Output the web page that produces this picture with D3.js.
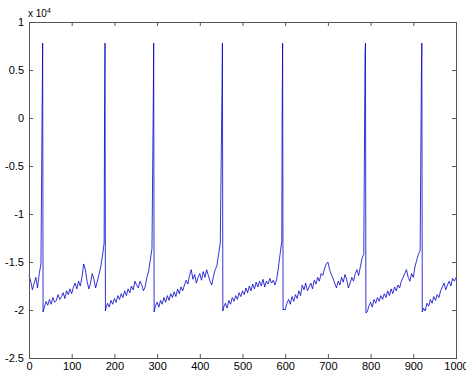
<!DOCTYPE html>
<html>
<head>
<meta charset="utf-8">
<script src="https://cdn.jsdelivr.net/npm/d3@7"></script>
<style>
  body { margin: 0; background: #fff; }
  svg { display: block; }
  text { font-family: "Liberation Sans", Arial, sans-serif; font-size: 11px; fill: #000; }
</style>
</head>
<body>
<svg id="chart" width="466" height="372"></svg>
<script>
// signal sampled every 4 units (values in units of 1e4)
const sampleStep = 4;
const signal = [
  -1.64, -1.70, -1.79, -1.72, -1.66, -1.77, -1.62, -1.52, -1.95,
  -1.97, -1.91, -1.95, -1.89, -1.94, -1.87, -1.92, -1.90, -1.84, -1.89, -1.86, -1.82,
  -1.88, -1.80, -1.84, -1.78, -1.83, -1.76, -1.72, -1.78, -1.70, -1.75, -1.66, -1.52,
  -1.58, -1.70, -1.78, -1.72, -1.62, -1.68, -1.77, -1.70, -1.63, -1.55, -1.44, -1.30,
  -1.98, -1.93, -1.97, -1.90, -1.94, -1.88, -1.92, -1.85, -1.89, -1.83, -1.87, -1.80,
  -1.85, -1.78, -1.82, -1.75, -1.79, -1.70, -1.74, -1.77, -1.70, -1.74, -1.80, -1.76,
  -1.66, -1.60, -1.48, -1.36, -1.98,
  -1.96, -1.92, -1.97, -1.90, -1.94, -1.87, -1.92, -1.85, -1.90, -1.83, -1.87, -1.81,
  -1.86, -1.78, -1.83, -1.76, -1.80, -1.74, -1.69, -1.73, -1.64, -1.58, -1.68, -1.63,
  -1.72, -1.66, -1.62, -1.69, -1.60, -1.66, -1.58, -1.64, -1.70, -1.74, -1.65, -1.58,
  -1.54, -1.42, -1.30, -1.30,
  -1.97, -1.93, -1.98, -1.90, -1.94, -1.87, -1.91, -1.85, -1.89, -1.82, -1.86, -1.80,
  -1.84, -1.77, -1.82, -1.75, -1.80, -1.73, -1.78, -1.71, -1.76, -1.70, -1.75, -1.68,
  -1.76, -1.70, -1.73, -1.67, -1.72, -1.69, -1.74, -1.68, -1.56, -1.42, -1.28,
  -1.99, -2.00, -1.93, -1.89, -1.94, -1.86, -1.91, -1.84, -1.88, -1.80, -1.85, -1.74,
  -1.79, -1.72, -1.80, -1.76, -1.72, -1.78, -1.69, -1.73, -1.66, -1.70, -1.62, -1.64,
  -1.57, -1.52, -1.50, -1.58, -1.63, -1.67, -1.72, -1.77, -1.70, -1.74, -1.66, -1.71,
  -1.63, -1.68, -1.77, -1.72, -1.66, -1.70, -1.62, -1.58, -1.64, -1.55, -1.46, -1.42,
  -1.98,
  -2.02, -1.96, -1.92, -1.97, -1.89, -1.93, -1.87, -1.91, -1.85, -1.89, -1.83, -1.87,
  -1.80, -1.85, -1.78, -1.83, -1.76, -1.80, -1.74, -1.77, -1.70, -1.66, -1.62, -1.58,
  -1.66, -1.70, -1.62, -1.66, -1.55, -1.48, -1.42, -1.38, -2.00,
  -1.98, -2.01, -1.93, -1.96, -1.89, -1.93, -1.86, -1.90, -1.84, -1.87, -1.80, -1.76,
  -1.72, -1.79, -1.74, -1.70, -1.75, -1.67, -1.70, -1.66
];

// spikes: upstroke sample, peak, trough
const spikeTime = [31, 177, 291, 452, 593, 787, 919];
const spikeMid = [0.24, 0.10, 0.13, 0.32, 0.16, 0.68, 0.47];
const spikePeak = [0.78, 0.78, 0.78, 0.78, 0.78, 0.78, 0.78];
const spikeTrough = [-2.02, -2.01, -2.02, -2.01, -2.00, -2.03, -2.02];

const xTicks = [0, 100, 200, 300, 400, 500, 600, 700, 800, 900, 1000];
const yTicks = [-2.5, -2, -1.5, -1, -0.5, 0, 0.5, 1];

const plotLeft = 29, plotRight = 456, plotTop = 22, plotBottom = 358;

// base samples that fall inside a spike are replaced by the spike
const points = signal
  .map((v, i) => [i * sampleStep, v])
  .filter(p => !spikeTime.some(t => p[0] >= t - 0.5 && p[0] <= t + 2.5));
spikeTime.forEach((t, i) => {
  points.push([t, spikeMid[i]], [t + 1, spikePeak[i]], [t + 2, spikeTrough[i]]);
});
points.sort((a, b) => a[0] - b[0]);

const svg = d3.select('#chart');
const x = d3.scaleLinear().domain([0, 1000]).range([plotLeft, plotRight]);
const y = d3.scaleLinear().domain([-2.5, 1]).range([plotBottom, plotTop]);

const line = d3.line().x(d => x(d[0])).y(d => y(d[1]));
svg.append('path')
  .datum(points)
  .attr('d', line)
  .attr('fill', 'none')
  .attr('stroke', '#0000c8')
  .attr('stroke-width', 0.8);

// axes, ticks inside on all four sides
const fmt = d => String(d);
const axisStyle = g => {
  g.select('.domain').remove();
  g.selectAll('line').attr('stroke', '#555');
  g.selectAll('text').attr('fill', '#000').style('font-size', '11px');
  g.attr('font-family', null);
};
svg.append('g').attr('transform', `translate(0,${plotBottom})`)
  .call(d3.axisBottom(x).tickValues(xTicks).tickFormat(fmt).tickSizeInner(-4).tickPadding(4))
  .call(axisStyle);
svg.append('g').attr('transform', `translate(0,${plotTop})`)
  .call(d3.axisTop(x).tickValues(xTicks).tickFormat('').tickSizeInner(-4))
  .call(axisStyle);
svg.append('g').attr('transform', `translate(${plotLeft},0)`)
  .call(d3.axisLeft(y).tickValues(yTicks).tickFormat(fmt).tickSizeInner(-4).tickPadding(5))
  .call(axisStyle);
svg.append('g').attr('transform', `translate(${plotRight},0)`)
  .call(d3.axisRight(y).tickValues(yTicks).tickFormat('').tickSizeInner(-4))
  .call(axisStyle);

svg.append('rect')
  .attr('x', plotLeft + 0.5).attr('y', plotTop + 0.5)
  .attr('width', plotRight - plotLeft).attr('height', plotBottom - plotTop)
  .attr('fill', 'none').attr('stroke', '#555');

// exponent label
const ex = svg.append('text').attr('x', 28).attr('y', 17).style('font-size', '10px');
ex.append('tspan').text('x 10');
ex.append('tspan').attr('dy', -4).style('font-size', '7px').text('4');
</script>
</body>
</html>
